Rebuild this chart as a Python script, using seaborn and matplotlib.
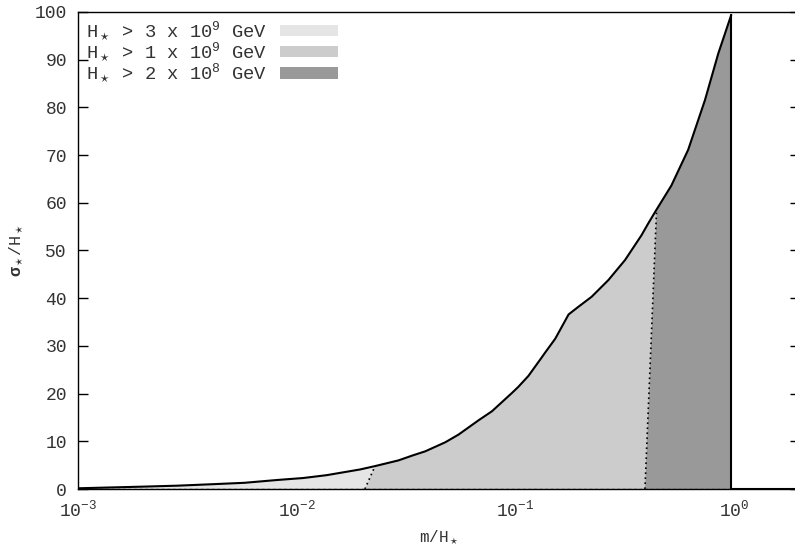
import numpy as np
import pandas as pd
import matplotlib
matplotlib.use("Agg")
import matplotlib.pyplot as plt
import seaborn as sns
from matplotlib.patches import Patch

# ---- data ----
m_vals = [0.001, 0.002, 0.00286, 0.0041, 0.00577, 0.0082, 0.0107, 0.0137, 0.0195, 0.0228,
          0.0292, 0.0337, 0.0387, 0.0478, 0.0549, 0.0678, 0.0781, 0.0962, 0.103, 0.1146,
          0.131, 0.1367, 0.152, 0.162, 0.175, 0.194, 0.223, 0.266, 0.317, 0.377,
          0.405, 0.442, 0.516, 0.616, 0.735, 0.846, 0.97]
sigma_vals = [0.15, 0.5, 0.7, 1.0, 1.3, 1.9, 2.3, 2.9, 4.1, 4.8,
              6.0, 7.0, 7.9, 9.8, 11.4, 14.4, 16.3, 20.1, 21.4, 23.7,
              27.4, 28.6, 31.5, 33.8, 36.6, 38.2, 40.3, 43.8, 48.0, 53.2,
              55.7, 58.6, 63.6, 71.1, 81.5, 91.3, 99.4]
# boundaries between shaded regions: (m at bottom, m at top, sigma at top)
bound1 = [0.0205, 0.0228, 4.8]
bound2 = [0.391, 0.442, 58.6]
m_end = 0.97
m_max = 2.0
labels = [r'H$_\star$ > 3 x 10$^9$ GeV',
          r'H$_\star$ > 1 x 10$^9$ GeV',
          r'H$_\star$ > 2 x 10$^8$ GeV']
colors = ['#e5e5e5', '#cccccc', '#999999']
yticks = list(range(0, 101, 10))

sns.set_theme(style="white")
plt.rcParams['font.family'] = ['Liberation Mono', 'DejaVu Sans']
plt.rcParams['mathtext.fontset'] = 'custom'
plt.rcParams['mathtext.rm'] = 'Liberation Mono'
plt.rcParams['mathtext.it'] = 'Liberation Mono'
plt.rcParams['mathtext.bf'] = 'Liberation Mono:bold'
plt.rcParams['mathtext.fallback'] = 'stixsans'

df = pd.DataFrame({'m': m_vals, 'sigma': sigma_vals})
m = np.array(m_vals)
s = np.array(sigma_vals)

fig = plt.figure(figsize=(7.95, 5.48), dpi=100)
ax = fig.add_axes([78/795, 59/548, (800-78)/795, 477/548])

# region polygons
sel1 = m <= bound1[1]
xs1 = [m[0]] + list(m[sel1]) + [bound1[0]]
ys1 = [0] + list(s[sel1]) + [0]
ax.fill(xs1, ys1, color=colors[0], lw=0)

sel2 = (m >= bound1[1]) & (m <= bound2[1])
xs2 = [bound1[0]] + list(m[sel2]) + [bound2[0]]
ys2 = [0] + list(s[sel2]) + [0]
ax.fill(xs2, ys2, color=colors[1], lw=0)

sel3 = m >= bound2[1]
xs3 = [bound2[0]] + list(m[sel3]) + [m_end]
ys3 = [0] + list(s[sel3]) + [0]
ax.fill(xs3, ys3, color=colors[2], lw=0)

# dotted boundaries
ax.plot([bound1[0], bound1[1]], [0, bound1[2]], color='black', ls=(0, (1, 2)), lw=1.2)
ax.plot([bound2[0], bound2[1]], [0, bound2[2]], color='black', ls=(0, (1, 2)), lw=1.2)
ax.plot([m[0], m_end], [0, 0], color='#444444', ls=(0, (2, 2)), lw=1.0)

# main curve
sns.lineplot(data=df, x='m', y='sigma', ax=ax, color='black', lw=1.5, sort=False)
ax.plot([m_end, m_end, m_max], [s[-1], 0, 0], color='black', lw=1.5)

ax.set_xscale('log')
ax.set_xlim(1e-3, m_max)
ax.set_ylim(0, 100)
ax.set_yticks(yticks)
ax.set_xticks([1e-3, 1e-2, 1e-1, 1e0])
ax.set_xticklabels([r'10$^{-3}$', r'10$^{-2}$', r'10$^{-1}$', r'10$^{0}$'])
ax.xaxis.set_minor_locator(matplotlib.ticker.NullLocator())
ax.tick_params(axis='y', which='both', direction='in', length=7, width=1, left=True, right=True,
               labelsize=13, colors='black', labelcolor='#333333', pad=8)
ax.tick_params(axis='x', which='both', length=0, labelsize=13, labelcolor='#333333', pad=8)
for sp in ax.spines.values():
    sp.set_color('black')
    sp.set_linewidth(1.0)

ax.set_xlabel(r'm/H$_\star$', fontsize=11.5, color='#333333', labelpad=6)
ax.set_ylabel(r'$\mathbf{\sigma}_\star$/H$_\star$', fontsize=12, color='#333333', labelpad=6)

handles = [Patch(facecolor=c, edgecolor='none') for c in colors]
ax.legend(handles, labels, loc='upper left', frameon=False, markerfirst=False,
          fontsize=13.5, handlelength=3.1, handleheight=0.55, labelspacing=-0.1,
          borderaxespad=0.0, borderpad=0.4, handletextpad=0.7,
          labelcolor='#333333', bbox_to_anchor=(0.0, 1.0))

fig.savefig('out.png', dpi=100)
